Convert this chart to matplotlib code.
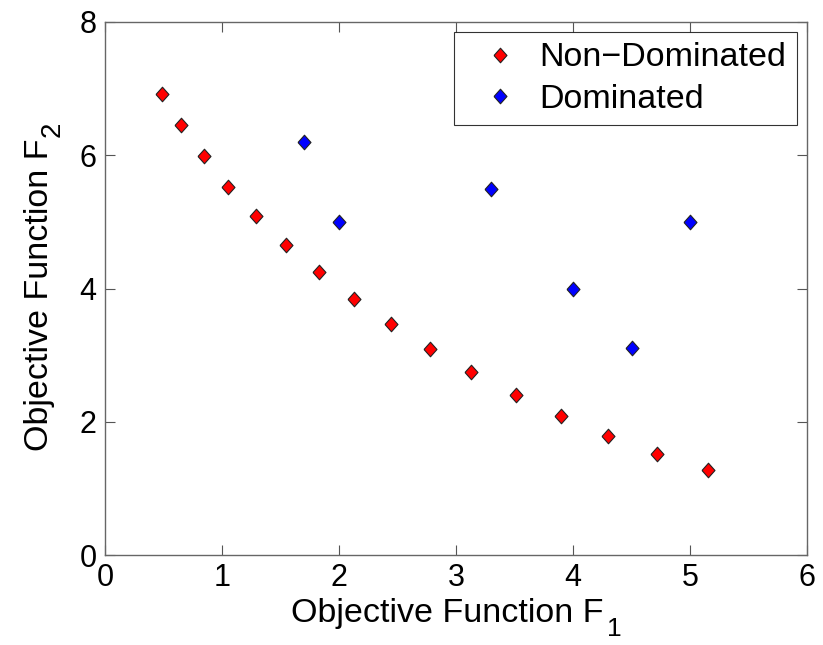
import numpy as np
import matplotlib.pyplot as plt

plt.rcParams['font.family'] = ['Liberation Sans', 'DejaVu Sans']

# Non-dominated front
nd_f1 = [0.49, 0.65, 0.85, 1.05, 1.29, 1.55, 1.83, 2.13, 2.44, 2.78,
         3.13, 3.51, 3.90, 4.30, 4.72, 5.15]
nd_f2 = [6.92, 6.45, 5.99, 5.53, 5.09, 4.66, 4.25, 3.85, 3.47, 3.09,
         2.74, 2.40, 2.08, 1.79, 1.52, 1.27]

# Dominated points
d_f1 = [1.7, 2.0, 3.3, 4.0, 4.5, 5.0]
d_f2 = [6.2, 5.0, 5.5, 4.0, 3.1, 5.0]

xticks = [0, 1, 2, 3, 4, 5, 6]
yticks = [0, 2, 4, 6, 8]

# MATLAB style diamond (slightly narrower than tall)
diamond = [(-0.445, 0), (0, 0.5), (0.445, 0), (0, -0.5), (-0.445, 0)]

fig = plt.figure(figsize=(8.23, 6.45), dpi=100)
ax = fig.add_axes([0.1276, 0.1395, 0.853, 0.8264])

ax.plot(nd_f1, nd_f2, linestyle='none', marker=diamond, markersize=10.5,
        markerfacecolor='red', markeredgecolor='#222222', markeredgewidth=0.8,
        label='Non\u2212Dominated')
ax.plot(d_f1, d_f2, linestyle='none', marker=diamond, markersize=10.5,
        markerfacecolor='blue', markeredgecolor='#222222', markeredgewidth=0.8,
        label='Dominated')

ax.set_xlim(0, 6)
ax.set_ylim(0, 8)
ax.set_xticks(xticks)
ax.set_yticks(yticks)
ax.tick_params(direction='in', length=7, width=0.8, color='#555555',
               top=True, right=True, labelsize=22, pad=6)
for s in ax.spines.values():
    s.set_color('#666666')
    s.set_linewidth(1.0)

# labels with MATLAB-like large subscripts
ax.set_xlabel('Objective Function F', fontsize=24.5, labelpad=3)
ax.xaxis.label.set_x(0.488)
ax.set_ylabel('Objective Function F', fontsize=24.5, labelpad=17.5)
ax.yaxis.label.set_y(0.488)

ax.annotate('1', xy=(1, 0), xycoords=ax.xaxis.label,
            xytext=(2.5, 8.5), textcoords='offset points',
            ha='left', va='top', fontsize=19)
ax.annotate('2', xy=(1, 1), xycoords=ax.yaxis.label,
            xytext=(-11.5, 1), textcoords='offset points',
            ha='left', va='bottom', rotation=90, fontsize=20)

leg = ax.legend(loc='upper right', fontsize=24.5, frameon=True, fancybox=False,
                edgecolor='black', borderaxespad=0.3, handletextpad=0.12,
                borderpad=0.3, labelspacing=0.3, handlelength=2.1)
leg.get_frame().set_linewidth(0.8)

fig.savefig('out.png', dpi=100)
